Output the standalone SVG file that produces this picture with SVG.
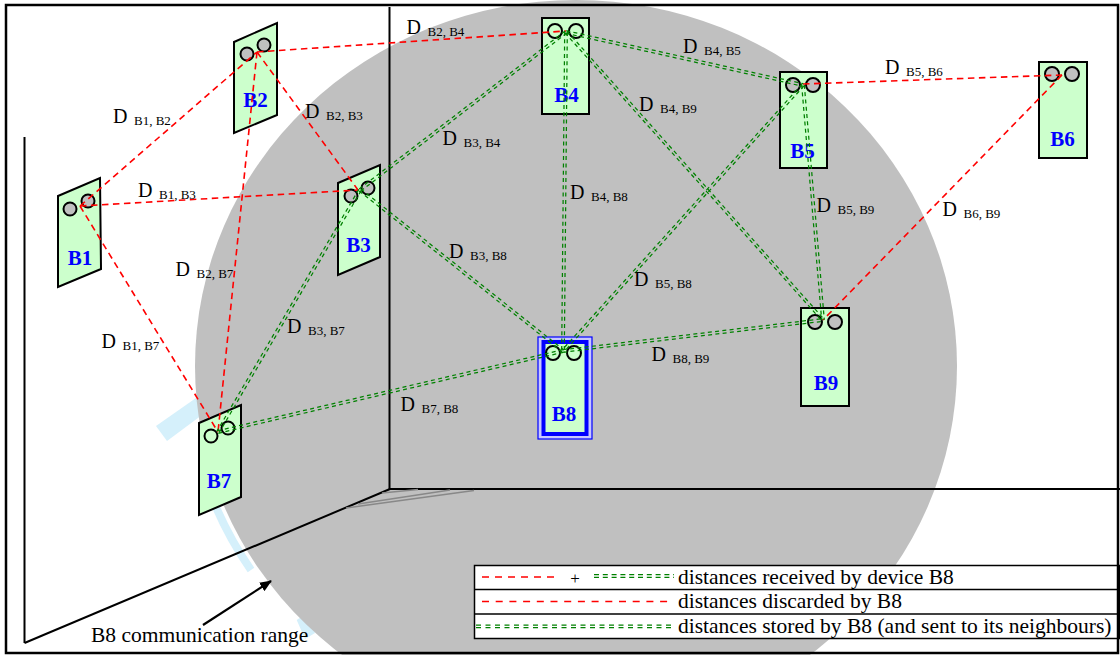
<svg xmlns="http://www.w3.org/2000/svg" width="1120" height="655" viewBox="0 0 1120 655">
<defs>
<style>
.node{fill:#ccffcc;stroke:#000;stroke-width:2}
.hole{fill:#c0c0c0;stroke:#000;stroke-width:2}
.ring{fill:none;stroke:#000;stroke-width:2}
.lbl{font-family:"Liberation Serif",serif;font-weight:bold;font-size:21px;fill:#0000ff;text-anchor:middle}
.red{fill:none;stroke:#ff0000;stroke-width:1.6;stroke-dasharray:6.5 4.5}
.grn{fill:none;stroke:#008000;stroke-width:1.25;stroke-dasharray:4 3.3}
.d{font-family:"Liberation Serif",serif;font-size:20px;fill:#000}
.s{font-size:13px}
.wall{fill:none;stroke:#000;stroke-width:2}
.lt{font-family:"Liberation Serif",serif;font-size:21.5px;fill:#000}
.blue{fill:#d5f0fb}
</style>
<marker id="ah" viewBox="0 0 12 10" refX="11" refY="5" markerWidth="12" markerHeight="10" markerUnits="userSpaceOnUse" orient="auto">
<path d="M0,0 L12,5 L0,10 z" fill="#000"/>
</marker>
</defs>
<rect x="0" y="0" width="1120" height="655" fill="#fff"/>
<g id="range">
<polygon class="blue" points="156,426 196,398 206,412 167,441"/>
<path d="M213,500 A385,370 0 0 0 251,570" fill="none" stroke="#d5f0fb" stroke-width="8"/>
<polygon class="blue" points="296.7,620 306.7,613.3 315,633 305,639"/>
<ellipse cx="576" cy="366" rx="381" ry="366" fill="#c0c0c0"/>
</g>
<g id="room">
<line class="wall" x1="24.5" y1="137" x2="24.5" y2="643"/>
<line class="wall" x1="24.5" y1="643" x2="390" y2="489"/>
<line class="wall" x1="389.5" y1="7" x2="389.5" y2="489"/>
<line class="wall" x1="389.5" y1="489" x2="1120" y2="489"/>
<g stroke="#888" stroke-width="1.5">
<line x1="346" y1="508" x2="474" y2="490.5"/>
<line x1="358" y1="504" x2="450" y2="490"/>
<line x1="382" y1="493" x2="418" y2="489.5"/>
</g>
</g>
<g id="B1"><polygon class="node" points="58,196 100,178 101,269 58,287"/><circle class="hole" cx="70" cy="209" r="6.5"/><circle class="hole" cx="88" cy="201" r="6.5"/><text class="lbl" x="80" y="265">B1</text></g>
<g id="B2"><polygon class="node" points="234,42 277,23 277,115 234,133"/><circle class="hole" cx="247" cy="54" r="6.5"/><circle class="hole" cx="264" cy="45" r="6.5"/><text class="lbl" x="255.5" y="106.5">B2</text></g>
<g id="B3"><polygon class="node" points="338,183 380,165 380,257 338,275"/><circle class="hole" cx="351" cy="196" r="6.5"/><circle class="hole" cx="368" cy="188" r="6.5"/><text class="lbl" x="358.5" y="251.5">B3</text></g>
<g id="B4"><rect class="node" x="542" y="18" width="47" height="96"/><circle class="ring" cx="555" cy="31" r="7"/><circle class="ring" cx="576" cy="31" r="7"/><text class="lbl" x="566.5" y="102">B4</text></g>
<g id="B5"><rect class="node" x="780" y="72" width="47" height="96"/><circle class="hole" cx="793" cy="85" r="7"/><circle class="hole" cx="813" cy="85" r="7"/><text class="lbl" x="802.5" y="158">B5</text></g>
<g id="B6"><rect class="node" x="1039" y="62" width="48" height="96"/><circle class="hole" cx="1052" cy="74" r="7"/><circle class="hole" cx="1072" cy="74" r="7"/><text class="lbl" x="1062.5" y="146">B6</text></g>
<g id="B7"><polygon class="node" points="199,423 241,405 241,497 199,515"/><circle class="ring" cx="211" cy="436" r="6.5"/><circle class="ring" cx="228" cy="428" r="6.5"/><text class="lbl" x="219" y="488">B7</text></g>
<g id="B8"><rect x="538" y="337" width="54" height="102" fill="#c8c8ff" stroke="#0000ff" stroke-width="1.2"/><rect x="543.5" y="342" width="43" height="92" fill="#ccffcc" stroke="#0000ff" stroke-width="4"/><circle class="ring" cx="553" cy="353" r="7"/><circle class="ring" cx="574" cy="353" r="7"/><text class="lbl" x="564" y="420.5">B8</text></g>
<g id="B9"><rect class="node" x="801" y="308" width="48" height="98"/><circle class="hole" cx="815" cy="322" r="7"/><circle class="hole" cx="835" cy="322" r="7"/><text class="lbl" x="826" y="390">B9</text></g>
<g id="connectors">
<line class="red" x1="80" y1="206" x2="257" y2="52"/>
<line class="red" x1="80" y1="206" x2="358" y2="190"/>
<line class="red" x1="80" y1="206" x2="218" y2="432"/>
<line class="red" x1="257" y1="52" x2="358" y2="190"/>
<line class="red" x1="257" y1="52" x2="566" y2="31"/>
<line class="red" x1="257" y1="52" x2="218" y2="432"/>
<line class="red" x1="803" y1="84" x2="1062" y2="75"/>
<line class="red" x1="1062" y1="75" x2="823" y2="320"/>
<line class="grn" x1="360.79" y1="191.03" x2="566.79" y2="33.03"/><line class="grn" x1="359.21" y1="188.97" x2="565.21" y2="30.97"/>
<line class="grn" x1="358.88" y1="189.34" x2="216.88" y2="431.34"/><line class="grn" x1="361.12" y1="190.66" x2="219.12" y2="432.66"/>
<line class="grn" x1="359.19" y1="191.02" x2="562.19" y2="352.02"/><line class="grn" x1="360.81" y1="188.98" x2="563.81" y2="349.98"/>
<line class="grn" x1="565.72" y1="33.27" x2="802.72" y2="86.27"/><line class="grn" x1="566.28" y1="30.73" x2="803.28" y2="83.73"/>
<line class="grn" x1="564.7" y1="32" x2="561.7" y2="351"/><line class="grn" x1="567.3" y1="32" x2="564.3" y2="351"/>
<line class="grn" x1="565.03" y1="32.87" x2="822.03" y2="320.87"/><line class="grn" x1="566.97" y1="31.13" x2="823.97" y2="319.13"/>
<line class="grn" x1="802.03" y1="84.13" x2="562.03" y2="350.13"/><line class="grn" x1="803.97" y1="85.87" x2="563.97" y2="351.87"/>
<line class="grn" x1="801.7" y1="85.11" x2="821.7" y2="320.11"/><line class="grn" x1="804.3" y1="84.89" x2="824.3" y2="319.89"/>
<line class="grn" x1="218.3" y1="433.27" x2="563.3" y2="352.27"/><line class="grn" x1="217.7" y1="430.73" x2="562.7" y2="349.73"/>
<line class="grn" x1="563.15" y1="352.29" x2="823.15" y2="321.29"/><line class="grn" x1="562.85" y1="349.71" x2="822.85" y2="318.71"/>
</g>
<g id="edge-labels">
<text class="d" x="113" y="123">D<tspan class="s" x="134" y="125">B1, B2</tspan></text>
<text class="d" x="138" y="197">D<tspan class="s" x="159" y="199">B1, B3</tspan></text>
<text class="d" x="305" y="118">D<tspan class="s" x="326" y="120">B2, B3</tspan></text>
<text class="d" x="175.5" y="276">D<tspan class="s" x="196.5" y="278">B2, B7</tspan></text>
<text class="d" x="406.5" y="34">D<tspan class="s" x="427.5" y="36">B2, B4</tspan></text>
<text class="d" x="683" y="53">D<tspan class="s" x="704" y="55">B4, B5</tspan></text>
<text class="d" x="442.5" y="145">D<tspan class="s" x="463.5" y="147">B3, B4</tspan></text>
<text class="d" x="639" y="111">D<tspan class="s" x="660" y="113">B4, B9</tspan></text>
<text class="d" x="570" y="199">D<tspan class="s" x="591" y="201">B4, B8</tspan></text>
<text class="d" x="449" y="258">D<tspan class="s" x="470" y="260">B3, B8</tspan></text>
<text class="d" x="634" y="286">D<tspan class="s" x="655" y="288">B5, B8</tspan></text>
<text class="d" x="885" y="74">D<tspan class="s" x="906" y="76">B5, B6</tspan></text>
<text class="d" x="816.5" y="211.5">D<tspan class="s" x="837.5" y="213.5">B5, B9</tspan></text>
<text class="d" x="942.5" y="215.5">D<tspan class="s" x="963.5" y="217.5">B6, B9</tspan></text>
<text class="d" x="101.5" y="347.5">D<tspan class="s" x="122.5" y="349.5">B1, B7</tspan></text>
<text class="d" x="287" y="332.5">D<tspan class="s" x="308" y="334.5">B3, B7</tspan></text>
<text class="d" x="400.5" y="411">D<tspan class="s" x="421.5" y="413">B7, B8</tspan></text>
<text class="d" x="651.5" y="361">D<tspan class="s" x="672.5" y="363">B8, B9</tspan></text>
</g>
<g id="range-label">
<line x1="203" y1="625" x2="271" y2="581" stroke="#000" stroke-width="2.2" marker-end="url(#ah)"/>
<text class="lt" x="91" y="642">B8 communication range</text>
</g>
<g id="legend">
<rect x="474.5" y="565.5" width="645" height="73" fill="#fff" stroke="#000" stroke-width="1.5"/>
<line x1="474.5" y1="589.5" x2="1119.5" y2="589.5" stroke="#000" stroke-width="1.5"/>
<line x1="474.5" y1="614" x2="1119.5" y2="614" stroke="#000" stroke-width="1.5"/>
<line x1="482" y1="577" x2="557" y2="577" stroke="#ff0000" stroke-width="1.6" stroke-dasharray="7 6"/>
<text class="lt" x="575" y="584" text-anchor="middle" style="font-size:17px">+</text>
<line x1="594" y1="574.7" x2="674" y2="574.7" stroke="#008000" stroke-width="1.25" stroke-dasharray="5 3.8"/>
<line x1="594" y1="577.3" x2="674" y2="577.3" stroke="#008000" stroke-width="1.25" stroke-dasharray="5 3.8"/>
<line x1="482" y1="601.5" x2="672" y2="601.5" stroke="#ff0000" stroke-width="1.6" stroke-dasharray="7 6.7"/>
<line x1="476" y1="625" x2="675" y2="625" stroke="#008000" stroke-width="1.25" stroke-dasharray="5 4.5"/>
<line x1="476" y1="627.6" x2="675" y2="627.6" stroke="#008000" stroke-width="1.25" stroke-dasharray="5 4.5"/>
<text class="lt" x="678" y="583.5">distances received by device B8</text>
<text class="lt" x="678" y="608">distances discarded by B8</text>
<text class="lt" x="678" y="633">distances stored by B8 (and sent to its neighbours)</text>
</g>
<rect x="6" y="5" width="1112" height="648" fill="none" stroke="#000" stroke-width="2.5"/>
</svg>
